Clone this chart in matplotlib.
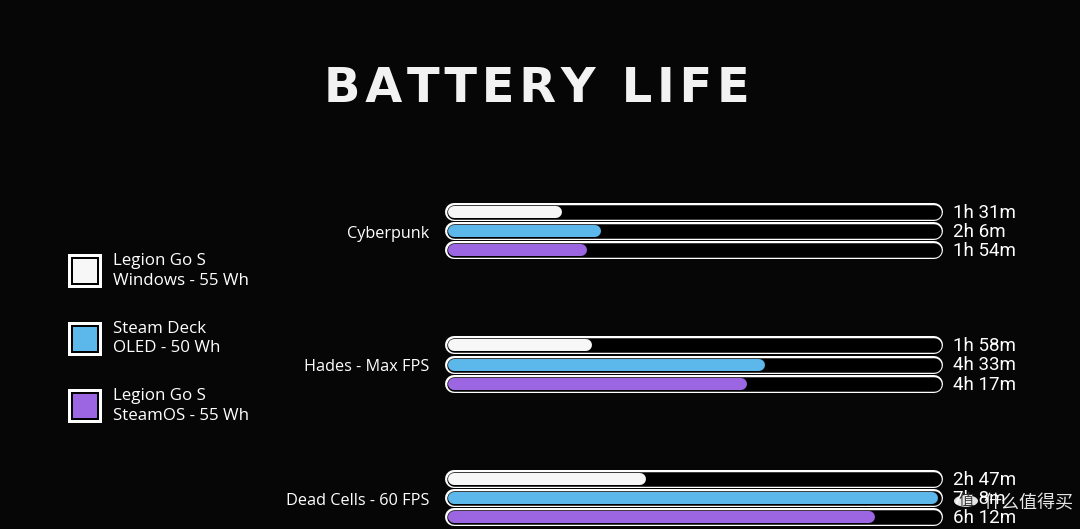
import matplotlib.pyplot as plt
from matplotlib.patches import Rectangle, Circle

# data
games = ['Cyberpunk', 'Hades - Max FPS', 'Dead Cells - 60 FPS']
devices = ['Legion Go S\nWindows - 55 Wh', 'Steam Deck\nOLED - 50 Wh', 'Legion Go S\nSteamOS - 55 Wh']
colors = ['#f7f7f7', '#5cb8ea', '#9c66e2']
hours = [[1, 2, 1], [1, 4, 4], [2, 7, 6]]
mins = [[31, 6, 54], [58, 33, 17], [47, 8, 12]]
xmax = 430  # minutes at the end of a track

W, H = 1080, 529
fig = plt.figure(figsize=(W / 100, H / 100), dpi=100)
fig.patch.set_facecolor('#060606')

# bar axes: x in minutes, y in row units (19 px per row)
ax = fig.add_axes([454 / W, 1 - 517 / H, (934 - 454) / W, (517 - 212) / H])
ax.set_xlim(0, xmax)
ax.set_ylim(16, 0)
ax.axis('off')

px = 0.72  # points per pixel
for g, game in enumerate(games):
    for d in range(3):
        y = g * 7 + d
        total = hours[g][d] * 60 + mins[g][d]
        ax.plot([0, xmax], [y, y], color='white', lw=18 * px,
                solid_capstyle='round', clip_on=False)
        ax.plot([0, xmax], [y, y], color='black', lw=14.5 * px,
                solid_capstyle='round', clip_on=False)
        ax.plot([0, total], [y, y], color=colors[d], lw=12 * px,
                solid_capstyle='round', clip_on=False)
        ax.text(xmax + xmax * 19 / 480, y + 0.05, '%dh %dm' % (hours[g][d], mins[g][d]),
                color='white', fontsize=13.5, family='Roboto',
                va='center', ha='left', clip_on=False)
    ax.text(-xmax * 25 / 480, g * 7 + 1.15, game, color='white', fontsize=11.7,
            family='Open Sans', va='center', ha='right', clip_on=False)

# title
title = ' \u2009'.join('\u200a'.join(w) for w in ['BATTERY', 'LIFE'])
fig.text(537 / W, 1 - 88 / H, title,
         color='#f2f2f2', fontsize=34.5, fontweight='bold', family='DejaVu Sans',
         ha='center', va='center')

# legend
for i, (lab, c) in enumerate(zip(devices, colors)):
    cy = 271 + i * 67.5
    fig.patches.append(Rectangle((68 / W, 1 - (cy + 17) / H), 34 / W, 34 / H,
                                 transform=fig.transFigure, facecolor='white',
                                 edgecolor='none'))
    fig.patches.append(Rectangle((71 / W, 1 - (cy + 14) / H), 28 / W, 28 / H,
                                 transform=fig.transFigure, facecolor='black',
                                 edgecolor='none'))
    fig.patches.append(Rectangle((73 / W, 1 - (cy + 12) / H), 24 / W, 24 / H,
                                 transform=fig.transFigure, facecolor=c,
                                 edgecolor='none'))
    fig.text(113 / W, 1 - cy / H, lab, color='white', fontsize=12.2,
             family='Open Sans', ha='left', va='center', linespacing=1.3)

# watermark
fig.patches.append(Circle((966 / W, 1 - 501 / H), 12 / W, transform=fig.transFigure,
                          facecolor='white', edgecolor='none', alpha=0.9))
fig.text(966 / W, 1 - 501 / H, '值', color='#333333', fontsize=11,
         family=['Noto Sans CJK SC', 'DejaVu Sans'], ha='center', va='center')
fig.text(983 / W, 1 - 503 / H, '什么值得买', color='white', fontsize=13,
         family=['Noto Sans CJK SC', 'DejaVu Sans'], ha='left', va='center',
         alpha=0.9)

fig.savefig('out.png', dpi=100, facecolor=fig.get_facecolor())
